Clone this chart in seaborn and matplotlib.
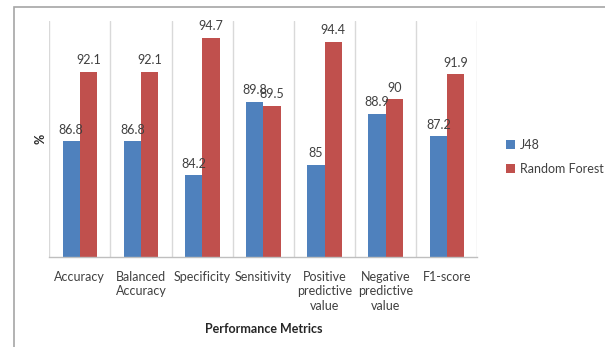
import numpy as np
import pandas as pd
import matplotlib
matplotlib.use("Agg")
import matplotlib.pyplot as plt
from matplotlib.patches import Rectangle, Patch
import seaborn as sns

# Classifier performance, in percent
metrics = ["Accuracy", "Balanced\nAccuracy", "Specificity", "Sensitivity",
           "Positive\npredictive\nvalue", "Negative\npredictive\nvalue", "F1-score"]
j48 = [86.8, 86.8, 84.2, 89.8, 85, 88.9, 87.2]
random_forest = [92.1, 92.1, 94.7, 89.5, 94.4, 90, 91.9]
models = ["J48", "Random Forest"]
colors = ["#4F81BD", "#C0504D"]

df = pd.DataFrame({
    "metric": metrics * 2,
    "value": j48 + random_forest,
    "model": [models[0]] * len(metrics) + [models[1]] * len(metrics),
})

sns.set_style("white")
plt.rcParams["font.family"] = ["Lato", "DejaVu Sans"]

W, H = 605, 347
fig = plt.figure(figsize=(W / 100, H / 100), dpi=100)
ax = fig.add_axes([49.3 / W, 1 - 256.7 / H, (477.5 - 49.3) / W, (256.7 - 20.7) / H])

sns.barplot(data=df, x="metric", y="value", hue="model", palette=colors,
            width=0.565, saturation=1, ax=ax, legend=False, linewidth=0)

ax.set_ylim(78, 96)
ax.set_xlim(-0.5, len(metrics) - 0.5)

for cont in ax.containers:
    ax.bar_label(cont, fmt="%g", padding=4, fontsize=9, color="#404040")

# category separators and tick marks
ax.set_xticks(np.arange(-0.5, len(metrics)), minor=True)
ax.grid(axis="x", which="minor", color="#d9d9d9", linewidth=1)
ax.grid(axis="y", visible=False)
ax.tick_params(axis="x", which="minor", length=5, color="#bfbfbf", width=1, direction="out")
ax.tick_params(axis="x", which="major", length=0, pad=10, labelsize=9, labelcolor="#404040")
ax.tick_params(axis="y", left=False, labelleft=False)
for lbl in ax.get_xticklabels():
    lbl.set_linespacing(1.25)
    lbl.set_verticalalignment("top")

for s in ["top", "right", "left"]:
    ax.spines[s].set_visible(False)
ax.spines["bottom"].set_color("#bfbfbf")
ax.spines["bottom"].set_linewidth(1)

ax.set_xlabel("Performance Metrics", fontsize=9, fontweight="bold", labelpad=8)
ax.set_ylabel("%", fontsize=9, fontweight="bold", labelpad=2)

handles = [Patch(facecolor=c, edgecolor="none") for c in colors]
fig.legend(handles, models, loc="center left", bbox_to_anchor=(495 / W, 1 - 157 / H),
           frameon=False, fontsize=9, handlelength=0.7, handleheight=0.7,
           handletextpad=0.4, labelspacing=1.0, labelcolor="#404040")

# outer chart frame
fig.patches.append(Rectangle((14 / W, -0.1), 1.2, 0.1 + 1 - 7 / H,
                             transform=fig.transFigure, fill=False,
                             edgecolor="#a6a6a6", linewidth=1.2))

fig.savefig("out.png", dpi=100)
